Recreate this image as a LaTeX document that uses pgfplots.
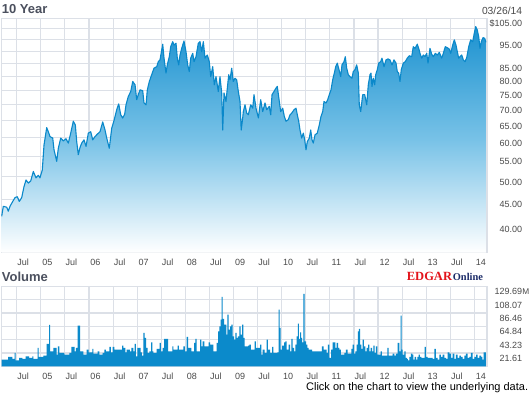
\documentclass[border=0pt]{standalone}
\usepackage{fontspec}
\setmainfont{Liberation Sans}
\newfontfamily\serifbold{Liberation Serif}
\usepackage{pgfplots}
\usepackage{pgfplotstable}
\pgfplotsset{compat=1.18}
\definecolor{gridc}{HTML}{DCE0E7}
\definecolor{linec}{HTML}{0A88CA}
\definecolor{topc}{HTML}{1C92D0}
\definecolor{midc}{HTML}{78C2E7}
\definecolor{volc}{HTML}{0B8ACB}
\definecolor{labc}{HTML}{4A4A4A}
\definecolor{titc}{HTML}{4B505E}
\definecolor{edgred}{HTML}{E3141B}
\definecolor{edgblue}{HTML}{1B2B68}

\pgfplotstableread{
x y
2004.187 41.5
2004.221 43.5
2004.292 43.3
2004.325 42.5
2004.360 43.5
2004.417 44.5
2004.465 45.3
2004.512 45.5
2004.554 44.5
2004.604 45.3
2004.652 47.7
2004.694 49.2
2004.742 48.5
2004.792 49.0
2004.846 51.2
2004.902 49.7
2004.950 50.3
2004.985 49.7
2005.033 51.6
2005.069 58.0
2005.125 62.9
2005.158 61.7
2005.194 60.3
2005.250 59.9
2005.277 56.7
2005.333 53.7
2005.367 57.1
2005.417 59.9
2005.471 59.1
2005.527 59.7
2005.575 58.5
2005.625 61.3
2005.679 64.8
2005.721 63.7
2005.750 58.9
2005.783 55.4
2005.819 57.3
2005.854 58.5
2005.902 59.4
2005.944 57.6
2005.992 61.3
2006.042 61.7
2006.083 59.4
2006.131 60.3
2006.179 61.0
2006.235 61.7
2006.292 64.6
2006.340 62.2
2006.375 59.9
2006.429 57.1
2006.479 62.7
2006.527 65.0
2006.583 68.4
2006.625 70.3
2006.667 66.8
2006.708 65.8
2006.750 67.0
2006.777 70.0
2006.825 72.8
2006.875 74.5
2006.917 78.1
2006.965 76.9
2007.000 71.7
2007.033 73.4
2007.069 75.1
2007.125 74.8
2007.152 70.6
2007.194 70.0
2007.221 75.1
2007.263 78.1
2007.312 80.6
2007.360 83.1
2007.417 83.7
2007.450 85.7
2007.485 86.4
2007.521 90.5
2007.542 93.0
2007.569 87.1
2007.610 81.2
2007.637 84.4
2007.679 87.7
2007.708 91.9
2007.750 94.1
2007.777 92.6
2007.819 93.4
2007.846 87.1
2007.875 84.4
2007.902 88.4
2007.937 91.2
2007.985 94.4
2008.027 89.8
2008.062 84.4
2008.096 81.8
2008.125 87.1
2008.167 89.1
2008.194 85.7
2008.235 87.7
2008.283 93.4
2008.319 94.1
2008.354 89.8
2008.388 94.1
2008.423 87.1
2008.471 88.4
2008.512 85.7
2008.542 79.9
2008.583 83.7
2008.617 76.9
2008.652 79.9
2008.700 74.5
2008.735 79.9
2008.771 74.0
2008.792 62.2
2008.819 74.0
2008.860 71.1
2008.888 75.7
2008.917 80.6
2008.944 78.7
2008.979 83.1
2009.012 78.1
2009.048 79.3
2009.083 78.7
2009.117 74.5
2009.152 71.1
2009.177 62.2
2009.208 65.8
2009.221 67.8
2009.256 70.0
2009.292 67.3
2009.325 66.8
2009.375 70.0
2009.417 68.9
2009.444 73.4
2009.485 68.9
2009.535 65.8
2009.583 71.7
2009.625 67.8
2009.673 70.6
2009.708 68.4
2009.762 69.5
2009.792 66.8
2009.819 73.4
2009.860 74.5
2009.902 75.7
2009.929 76.3
2009.971 71.1
2010.000 67.8
2010.042 68.9
2010.075 66.3
2010.110 64.8
2010.158 65.3
2010.194 66.8
2010.229 67.3
2010.277 68.4
2010.319 68.9
2010.346 66.8
2010.375 64.8
2010.402 62.2
2010.437 59.9
2010.471 61.3
2010.500 59.4
2010.527 56.7
2010.554 58.9
2010.596 59.9
2010.625 62.2
2010.652 59.4
2010.679 58.5
2010.715 60.8
2010.762 61.3
2010.804 63.7
2010.840 66.3
2010.875 67.8
2010.902 71.1
2010.944 70.6
2010.979 71.7
2011.012 73.4
2011.048 75.1
2011.083 78.7
2011.117 81.2
2011.146 83.7
2011.179 85.1
2011.215 82.5
2011.250 79.9
2011.277 84.4
2011.319 85.7
2011.346 87.7
2011.375 83.1
2011.408 80.6
2011.444 79.9
2011.485 79.3
2011.512 81.8
2011.548 82.5
2011.583 84.4
2011.617 81.2
2011.637 70.0
2011.667 67.8
2011.708 73.4
2011.750 73.4
2011.792 70.0
2011.825 76.9
2011.860 80.6
2011.881 81.2
2011.902 76.3
2011.929 79.3
2011.958 76.9
2011.979 80.6
2012.012 82.5
2012.042 85.1
2012.083 85.7
2012.110 87.1
2012.152 83.7
2012.194 86.4
2012.235 86.8
2012.277 86.4
2012.319 84.4
2012.360 86.4
2012.402 85.1
2012.429 81.8
2012.458 81.2
2012.485 78.1
2012.512 82.5
2012.554 85.1
2012.596 85.7
2012.637 87.1
2012.679 88.1
2012.729 87.7
2012.762 91.9
2012.798 91.2
2012.846 93.0
2012.875 91.2
2012.902 89.1
2012.937 87.1
2012.971 88.4
2013.006 87.7
2013.042 89.1
2013.069 85.1
2013.110 91.2
2013.146 88.7
2013.179 87.7
2013.221 89.1
2013.263 88.4
2013.304 89.5
2013.354 87.1
2013.388 89.1
2013.429 91.9
2013.471 91.5
2013.512 90.9
2013.542 89.1
2013.583 92.6
2013.617 94.9
2013.652 92.6
2013.679 89.8
2013.708 87.1
2013.735 87.7
2013.771 88.4
2013.804 86.4
2013.840 85.7
2013.875 87.3
2013.917 91.9
2013.958 94.9
2014.000 94.1
2014.033 97.9
2014.062 101.0
2014.096 99.4
2014.125 96.3
2014.152 91.2
2014.179 94.1
2014.215 95.9
2014.250 95.6
2014.275 93.8
}\price

\pgfplotstableread{
x v
2004.185 10.8
2004.319 15.1
2004.409 11.9
2004.458 21.6
2004.478 9.7
2004.548 13.5
2004.617 11.9
2004.687 16.2
2004.756 13.5
2004.826 16.2
2004.846 11.9
2004.937 29.7
2004.958 15.1
2005.055 17.3
2005.124 36.2
2005.173 67.0
2005.194 24.3
2005.263 29.7
2005.333 18.9
2005.360 32.4
2005.388 21.6
2005.492 18.9
2005.596 21.6
2005.638 31.3
2005.708 24.3
2005.735 29.7
2005.770 65.9
2005.819 24.3
2005.888 18.9
2005.958 27.0
2005.999 22.7
2006.076 28.1
2006.096 20.5
2006.187 24.3
2006.221 18.9
2006.291 21.6
2006.326 27.0
2006.360 24.3
2006.430 31.3
2006.464 22.7
2006.499 31.3
2006.534 27.0
2006.694 33.5
2006.721 29.7
2006.763 22.7
2006.791 27.0
2006.860 24.3
2006.888 29.7
2006.930 24.3
2006.958 36.2
2006.985 16.2
2007.013 29.7
2007.083 22.7
2007.110 17.3
2007.138 54.0
2007.166 45.9
2007.194 29.7
2007.228 21.6
2007.263 24.3
2007.298 38.9
2007.326 24.3
2007.346 21.6
2007.416 28.1
2007.478 37.8
2007.506 24.3
2007.541 29.7
2007.569 44.3
2007.652 24.3
2007.742 32.4
2007.763 27.0
2007.853 33.5
2007.881 27.0
2007.971 32.4
2008.006 24.3
2008.041 47.6
2008.069 29.7
2008.138 24.3
2008.194 37.8
2008.221 44.3
2008.249 24.3
2008.319 43.2
2008.346 32.4
2008.374 40.5
2008.409 32.4
2008.499 38.9
2008.527 35.1
2008.596 24.3
2008.666 37.8
2008.694 56.7
2008.721 64.8
2008.749 75.7
2008.770 112.4
2008.791 76.7
2008.819 67.5
2008.867 51.3
2008.888 83.8
2008.916 59.4
2008.944 64.8
2008.971 67.5
2008.999 48.6
2009.027 43.2
2009.055 54.0
2009.083 45.9
2009.110 48.6
2009.138 64.8
2009.166 51.3
2009.194 67.5
2009.221 45.9
2009.249 32.4
2009.319 33.5
2009.346 35.1
2009.381 27.0
2009.458 40.5
2009.485 29.7
2009.569 35.1
2009.596 18.9
2009.624 27.0
2009.666 21.6
2009.708 43.2
2009.735 27.0
2009.777 21.6
2009.819 31.3
2009.846 21.6
2009.930 22.7
2009.958 91.9
2009.978 62.1
2009.999 27.0
2010.027 33.5
2010.069 38.9
2010.096 40.5
2010.124 27.0
2010.166 35.1
2010.194 24.3
2010.221 44.3
2010.249 29.7
2010.277 24.3
2010.305 35.1
2010.333 48.6
2010.360 69.2
2010.381 44.3
2010.402 55.1
2010.423 45.9
2010.444 38.9
2010.471 117.3
2010.499 40.5
2010.527 35.1
2010.555 29.7
2010.583 27.0
2010.652 24.3
2010.860 32.4
2010.895 27.0
2010.958 21.6
2010.985 35.1
2011.013 13.5
2011.048 27.0
2011.083 38.9
2011.138 29.7
2011.166 37.8
2011.194 29.7
2011.221 27.0
2011.256 18.9
2011.326 21.6
2011.360 27.0
2011.395 20.5
2011.471 28.1
2011.499 35.1
2011.527 20.5
2011.555 24.3
2011.583 35.1
2011.610 56.7
2011.631 60.5
2011.652 35.1
2011.680 28.1
2011.707 43.2
2011.735 32.4
2011.763 24.3
2011.791 29.7
2011.819 35.1
2011.846 24.3
2011.874 29.7
2011.902 24.3
2011.930 33.5
2011.958 21.6
2011.985 32.4
2012.013 18.9
2012.083 24.3
2012.110 17.3
2012.221 29.7
2012.249 17.3
2012.332 20.5
2012.367 17.3
2012.402 20.5
2012.437 37.8
2012.471 24.3
2012.499 82.1
2012.520 27.0
2012.541 18.9
2012.576 24.3
2012.603 13.5
2012.631 11.9
2012.652 9.7
2012.680 15.1
2012.714 20.5
2012.742 18.9
2012.763 10.8
2012.791 15.1
2012.819 10.8
2012.846 15.1
2012.874 18.9
2012.902 15.1
2012.930 13.5
2012.999 31.3
2013.027 15.1
2013.062 13.5
2013.166 11.9
2013.201 28.1
2013.235 13.5
2013.270 10.8
2013.305 18.9
2013.339 15.1
2013.374 18.9
2013.409 13.5
2013.444 11.9
2013.478 22.7
2013.513 20.5
2013.548 13.5
2013.583 20.5
2013.617 11.9
2013.652 18.9
2013.687 13.5
2013.721 17.3
2013.756 15.1
2013.791 11.9
2013.826 17.3
2013.860 20.5
2013.895 13.5
2013.930 15.1
2013.964 21.6
2013.999 11.9
2014.034 15.1
2014.069 18.9
2014.103 13.5
2014.138 17.3
2014.173 15.1
2014.201 10.8
2014.228 22.7
2014.275 22.7
}\volume

\pgfplotsset{
  chartbase/.style={
    scale only axis, width=485.5pt,
    xmin=2004.183, xmax=2014.298,
    axis line style={gridc, line width=1.1pt},
    grid=major, major grid style={gridc, line width=1.1pt},
    major tick length=0pt,
    xtick={2004.500,2005.002,2005.504,2006.006,2006.508,2007.009,2007.511,2008.013,2008.515,2009.017,2009.519,2010.021,2010.523,2011.024,2011.526,2012.028,2012.530,2013.032,2013.534,2014.036},
    xticklabels={Jul,05,Jul,06,Jul,07,Jul,08,Jul,09,Jul,10,Jul,11,Jul,12,Jul,13,Jul,14},
    xticklabel style={anchor=base, inner sep=0pt, xshift=6.5pt, yshift=-13.3pt, font=\fontsize{9}{10}\selectfont, text=labc},
    yticklabel pos=right,
    yticklabel style={anchor=base east, inner sep=0pt, xshift=35.3pt, yshift=-8.6pt, font=\fontsize{9}{10}\selectfont, text=labc},
  }
}

\begin{document}
\begin{tikzpicture}
\path[use as bounding box] (0,0) rectangle (530pt,-395pt);
\fill[white] (0,0) rectangle (530pt,-395pt);

\begin{axis}[chartbase, at={(1.5pt,-18.3pt)}, anchor=north west, height=234.4pt,
  ymode=log, ymin=35, ymax=105, log origin y=infty,
  ytick={35,40,45,50,55,60,65,70,75,80,85,90,95,100,105},
  yticklabels={,40.00,45.00,50.00,55.00,60.00,65.00,70.00,75.00,80.00,85.00,,95.00,,\$105.00}]
\addplot[draw=none, top color=topc, bottom color=white, middle color=midc] table[x=x,y=y] {\price} \closedcycle;
\addplot[linec, line width=1.1pt, line join=round] table[x=x,y=y] {\price};
\end{axis}

\begin{axis}[chartbase, at={(1.5pt,-286.3pt)}, anchor=north west, height=80pt,
  ymin=0, ymax=129.69,
  ytick={0,21.615,43.23,64.845,86.46,108.075,129.69},
  yticklabels={,21.61,43.23,64.84,86.46,108.07,129.69\rlap{\kern0.3pt\fontsize{8.3}{10}\selectfont M}}]
\addplot[const plot, fill=volc, draw=none] table[x=x,y=v] {\volume} \closedcycle;
\end{axis}

\node[anchor=base west, inner sep=0pt, font=\bfseries\fontsize{13}{14}\selectfont, text=titc] at (1.7pt,-13.3pt) {10 Year};
\node[anchor=base west, inner sep=0pt, font=\bfseries\fontsize{13}{14}\selectfont, text=titc] at (1.7pt,-281.7pt) {Volume};
\node[anchor=base east, inner sep=0pt, font=\fontsize{10.3}{11}\selectfont, text=labc] at (522.3pt,-15pt) {03/26/14};
\node[anchor=base west, inner sep=0pt, font=\serifbold\bfseries\fontsize{12.5}{13}\selectfont, text=edgred] at (406.7pt,-280pt) {EDGAR};
\node[anchor=base west, inner sep=0pt, font=\serifbold\bfseries\fontsize{10.4}{11}\selectfont, text=edgblue] at (452.7pt,-280pt) {Online};
\node[anchor=base east, inner sep=0pt, font=\fontsize{11}{12}\selectfont, text=black] at (528.3pt,-390.7pt) {Click on the chart to view the underlying data.};
\end{tikzpicture}
\end{document}
